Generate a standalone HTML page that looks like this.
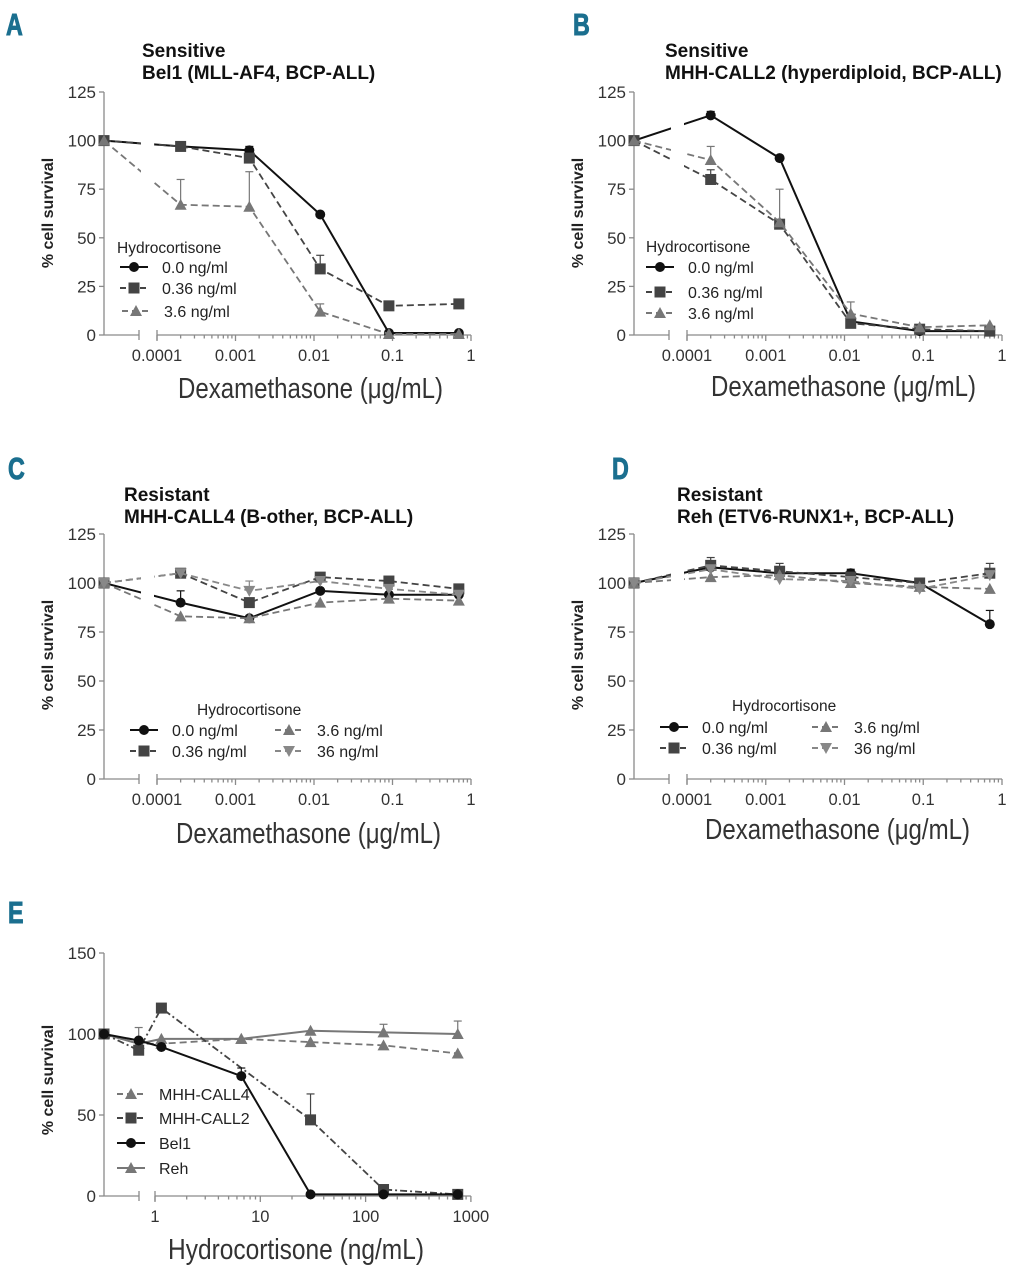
<!DOCTYPE html>
<html><head><meta charset="utf-8"><style>
html,body{margin:0;padding:0;background:#fff;}
svg{display:block;font-family:"Liberation Sans",sans-serif;}
</style></head><body>
<svg id="fig" width="1022" height="1280" viewBox="0 0 1022 1280"></svg>
<script>
// Dexamethasone concentrations (µg/mL); null = control (no dex)
const dexDoses = [null, 0.0002, 0.0015, 0.012, 0.09, 0.7];
const hcDoses = [null, 0.7, 1.15, 6.6, 30, 148, 750];
const dexTicks = ["0.0001","0.001","0.01","0.1","1"];
const hcTicks = ["1","10","100","1000"];
const yTicks125 = [0,25,50,75,100,125];
const yTicks150 = [0,50,100,150];
// Panel A – Bel1
const aHc0 = [100,97,95,62,1,1];
const aHc036 = [100,97,91,34,15,16];
const aHc36 = [100,67,66,12,0.5,0.5];
const aErr036 = [null,null,null,41,null,null];
const aErr36 = [null,80,84,16,null,null];
const aErr0 = [null,null,97,null,null,null];
// Panel B – MHH-CALL2
const bHc0 = [100,113,91,7,2,2];
const bHc036 = [100,80,57,6,3,2];
const bHc36 = [100,90,58,11,4,5];
const bErr036 = [null,85,null,null,null,null];
const bErr36 = [null,97,75,17,null,null];
const bErr0 = [null,115,null,null,null,null];
// Panel C – MHH-CALL4
const cHc0 = [100,90,82,96,94,94];
const cHc036 = [100,105,90,103,101,97];
const cHc36 = [100,83,82,90,92,91];
const cHc360 = [100,105,96,101,97,94];
const cErr0 = [null,96,null,null,null,null];
const cErr360 = [null,null,101,null,null,null];
// Panel D – Reh
const dHc0 = [100,108,105,105,100,79];
const dHc036 = [100,109,106,103,100,105];
const dHc36 = [100,103,104,100,98,97];
const dHc360 = [100,107,102,101,97,104];
const dErr0 = [null,null,null,107,null,86];
const dErr036 = [null,113,110,null,null,110];
// Panel E – hydrocortisone alone
const eCall4 = [100,94,94,97,95,93,88];
const eCall2 = [100,90,116,null,47,4,1];
const eBel1 = [100,96,92,74,1,1,1];
const eReh = [100,94,97,97,102,101,100];
const eErrCall2 = [null,null,null,null,63,null,null];
const eErrReh = [null,104,null,null,null,106,108];
const eErrBel1 = [null,null,null,79,null,null,null];

const NS="http://www.w3.org/2000/svg";
const svg=document.getElementById('fig');
function mk(tag,attrs,parent){const e=document.createElementNS(NS,tag);for(const k in attrs)e.setAttribute(k,attrs[k]);(parent||svg).appendChild(e);return e;}
function txt(s,attrs,parent){const e=mk('text',attrs,parent);e.textContent=s;return e;}

const STY={
 black:{c:'#111',dash:'',m:'circle'},
 sq:{c:'#444',dash:'7,4',m:'square'},
 tri:{c:'#777',dash:'7,4',m:'tri'},
 inv:{c:'#888',dash:'7,4',m:'inv'},
 sqdd:{c:'#444',dash:'7,3,2,3',m:'square'},
 reh:{c:'#777',dash:'',m:'tri'}
};
function marker(g,type,x,y,c){
 let e;
 if(type==='circle')e=mk('circle',{cx:x,cy:y,r:5,fill:c},g);
 else if(type==='square')e=mk('rect',{x:x-5.5,y:y-5.5,width:11,height:11,fill:c},g);
 else if(type==='tri')e=mk('polygon',{points:`${x},${y-6} ${x-6},${y+5} ${x+6},${y+5}`,fill:c},g);
 else e=mk('polygon',{points:`${x},${y+6} ${x-6},${y-5} ${x+6},${y-5}`,fill:c},g);
 return e;
}

function panel(o){
 const g=mk('g',{},svg);
 
 
 const yS=v=>o.y0-(v/o.ymax)*(o.y0-o.ytop);
 const xS=d=>d===null?o.ax:o.xFirst+(Math.log10(d)-o.logFirst)*o.dec;
 const L=txt(o.letter,{x:0,y:0,'font-size':31,'font-weight':'bold',fill:'#1b6f8f',stroke:'#1b6f8f','stroke-width':1,transform:`translate(${o.lx},${o.ly}) scale(0.75,1)`},g);
 
 if(o.title){
  o.title.forEach((t,i)=>{const e=txt(t,{x:o.tx,y:o.ty+i*22,'font-size':19,'font-weight':'bold',fill:'#111'},g);
  });
 }
 const ax=mk('g',{stroke:'#8a8a8a','stroke-width':1.3,fill:'none'},g);
 
 mk('line',{x1:o.ax,y1:o.ytop,x2:o.ax,y2:o.y0},ax);
 mk('line',{x1:o.ax,y1:o.y0,x2:o.brk,y2:o.y0},ax);
 mk('line',{x1:o.brk,y1:o.y0-5,x2:o.brk,y2:o.y0+5},ax);
 const xEnd=o.xFirst+(o.ticks.length-1)*o.dec;
 mk('line',{x1:o.xFirst,y1:o.y0,x2:xEnd,y2:o.y0},ax);
 mk('line',{x1:o.xFirst,y1:o.y0-5,x2:o.xFirst,y2:o.y0+5},ax);
 o.yticks.forEach(v=>{const y=yS(v);mk('line',{x1:o.ax-5,y1:y,x2:o.ax,y2:y},ax);
  const t=txt(String(v),{x:o.ax-8,y:y+6,'font-size':17,fill:'#333','text-anchor':'end',stroke:'none'},g);
  });
 o.ticks.forEach((lab,i)=>{const x=o.xFirst+i*o.dec;mk('line',{x1:x,y1:o.y0,x2:x,y2:o.y0+6},ax);
  if(i<o.ticks.length-1)for(let k=2;k<10;k++){const xm=x+Math.log10(k)*o.dec;mk('line',{x1:xm,y1:o.y0,x2:xm,y2:o.y0+3.5},ax);}
  const t=txt(lab,{x:x,y:o.y0+26,'font-size':16.5,fill:'#333','text-anchor':'middle'},g);
  });
 const yl=txt('% cell survival',{x:0,y:0,'font-size':16,'font-weight':'bold',fill:'#222','text-anchor':'middle',transform:`translate(${o.ylx},${o.yly}) rotate(-90)`},g);
 
 const xl=txt(o.xlabel,{x:o.xlx,y:o.xly,'font-size':29,fill:'#333',textLength:o.xlw,lengthAdjust:'spacingAndGlyphs'},g);
 
 o.series.forEach(s=>{
  const st=STY[s.style];
  const sg=mk('g',{},g);
  
  if(s.err)s.err.forEach((e,i)=>{if(e===null||s.vals[i]===null)return;const x=xS(o.doses[i]);
   mk('line',{x1:x,y1:yS(s.vals[i]),x2:x,y2:yS(e),stroke:st.c,'stroke-width':1.2},sg);
   mk('line',{x1:x-4,y1:yS(e),x2:x+4,y2:yS(e),stroke:st.c,'stroke-width':1.2},sg);});
  const pts=[];s.vals.forEach((v,i)=>{if(v!==null)pts.push([xS(o.doses[i]),yS(v)]);});
  mk('polyline',{points:pts.map(p=>p.join(',')).join(' '),fill:'none',stroke:st.c,'stroke-width':st.dash?1.8:2,'stroke-dasharray':st.dash},sg);
  pts.forEach(p=>{const m=marker(sg,st.m,p[0],p[1],st.c);});
 });
 if(o.gap){mk('rect',{x:o.brk+2,y:o.ytop-5,width:o.xFirst-o.brk-5,height:o.y0-o.ytop,fill:'#fff'},g);}
 const lg=mk('g',{},g);
 
 if(o.legTitle){txt('Hydrocortisone',{x:o.legTitle[0],y:o.legTitle[1],'font-size':15.5,fill:'#222'},lg);}
 o.legend.forEach(e=>{const st=STY[e.style];
  const le=mk('g',{},lg);
  mk('line',{x1:e.x,y1:e.y,x2:e.x+28,y2:e.y,stroke:st.c,'stroke-width':2,'stroke-dasharray':st.dash?'6,4':''},le);
  marker(le,st.m,e.x+14,e.y,st.c);
  txt(e.label,{x:e.x+42,y:e.y+6,'font-size':16,fill:'#222'},le);});
}
const DEXL='Dexamethasone (\u03bcg/mL)';
panel({name:'panel-a',letter:'A',lx:6,ly:35,title:['Sensitive','Bel1 (MLL-AF4, BCP-ALL)'],tx:142,ty:57,
 ax:104,ytop:92,y0:335,ymax:125,yticks:yTicks125,brk:139,xFirst:157,logFirst:-4,dec:78.5,ticks:dexTicks,doses:dexDoses,gap:true,
 ylx:53,yly:213,xlabel:DEXL,xlx:178,xly:398,xlw:265,
 series:[{id:'0ng',style:'black',vals:aHc0,err:aErr0},{id:'036ng',style:'sq',vals:aHc036,err:aErr036},{id:'36ng',style:'tri',vals:aHc36,err:aErr36}],
 legTitle:[117,253],legend:[{style:'black',x:120,y:267,label:'0.0 ng/ml'},{style:'sq',x:120,y:288,label:'0.36 ng/ml'},{style:'tri',x:122,y:311,label:'3.6 ng/ml'}]});
panel({name:'panel-b',letter:'B',lx:573,ly:35,title:['Sensitive','MHH-CALL2 (hyperdiploid, BCP-ALL)'],tx:665,ty:57,
 ax:634,ytop:92,y0:335,ymax:125,yticks:yTicks125,brk:669,xFirst:687,logFirst:-4,dec:78.75,ticks:dexTicks,doses:dexDoses,gap:true,
 ylx:583,yly:213,xlabel:DEXL,xlx:711,xly:396,xlw:265,
 series:[{id:'0ng',style:'black',vals:bHc0,err:bErr0},{id:'036ng',style:'sq',vals:bHc036,err:bErr036},{id:'36ng',style:'tri',vals:bHc36,err:bErr36}],
 legTitle:[646,252],legend:[{style:'black',x:646,y:267,label:'0.0 ng/ml'},{style:'sq',x:646,y:292,label:'0.36 ng/ml'},{style:'tri',x:646,y:313,label:'3.6 ng/ml'}]});
panel({name:'panel-c',letter:'C',lx:8,ly:479,title:['Resistant','MHH-CALL4 (B-other, BCP-ALL)'],tx:124,ty:501,
 ax:104,ytop:534,y0:779,ymax:125,yticks:yTicks125,brk:139,xFirst:157,logFirst:-4,dec:78.5,ticks:dexTicks,doses:dexDoses,gap:true,
 ylx:53,yly:655,xlabel:DEXL,xlx:176,xly:843,xlw:265,
 series:[{id:'0ng',style:'black',vals:cHc0,err:cErr0},{id:'036ng',style:'sq',vals:cHc036},{id:'36ng',style:'tri',vals:cHc36},{id:'360ng',style:'inv',vals:cHc360,err:cErr360}],
 legTitle:[197,715],legend:[{style:'black',x:130,y:730,label:'0.0 ng/ml'},{style:'sq',x:130,y:751,label:'0.36 ng/ml'},{style:'tri',x:275,y:730,label:'3.6 ng/ml'},{style:'inv',x:275,y:751,label:'36 ng/ml'}]});
panel({name:'panel-d',letter:'D',lx:612,ly:479,title:['Resistant','Reh (ETV6-RUNX1+, BCP-ALL)'],tx:677,ty:501,
 ax:634,ytop:534,y0:779,ymax:125,yticks:yTicks125,brk:669,xFirst:687,logFirst:-4,dec:78.75,ticks:dexTicks,doses:dexDoses,gap:true,
 ylx:583,yly:655,xlabel:DEXL,xlx:705,xly:839,xlw:265,
 series:[{id:'0ng',style:'black',vals:dHc0,err:dErr0},{id:'036ng',style:'sq',vals:dHc036,err:dErr036},{id:'36ng',style:'tri',vals:dHc36},{id:'360ng',style:'inv',vals:dHc360}],
 legTitle:[732,711],legend:[{style:'black',x:660,y:727,label:'0.0 ng/ml'},{style:'sq',x:660,y:748,label:'0.36 ng/ml'},{style:'tri',x:812,y:727,label:'3.6 ng/ml'},{style:'inv',x:812,y:748,label:'36 ng/ml'}]});
panel({name:'panel-e',letter:'E',lx:8,ly:923,title:null,
 ax:104,ytop:953,y0:1196,ymax:150,yticks:yTicks150,brk:139,xFirst:155,logFirst:0,dec:105.3,ticks:hcTicks,doses:hcDoses,gap:false,
 ylx:53,yly:1080,xlabel:'Hydrocortisone (ng/mL)',xlx:168,xly:1259,xlw:256,
 series:[{id:'reh',style:'reh',vals:eReh,err:eErrReh},{id:'mhh-call4',style:'tri',vals:eCall4},{id:'mhh-call2',style:'sqdd',vals:eCall2,err:eErrCall2},{id:'bel1',style:'black',vals:eBel1,err:eErrBel1}],
 legTitle:null,legend:[{style:'tri',x:117,y:1094,label:'MHH-CALL4'},{style:'sqdd',x:117,y:1118,label:'MHH-CALL2'},{style:'black',x:117,y:1143,label:'Bel1'},{style:'reh',x:117,y:1168,label:'Reh'}]});
</script>
</body></html>
